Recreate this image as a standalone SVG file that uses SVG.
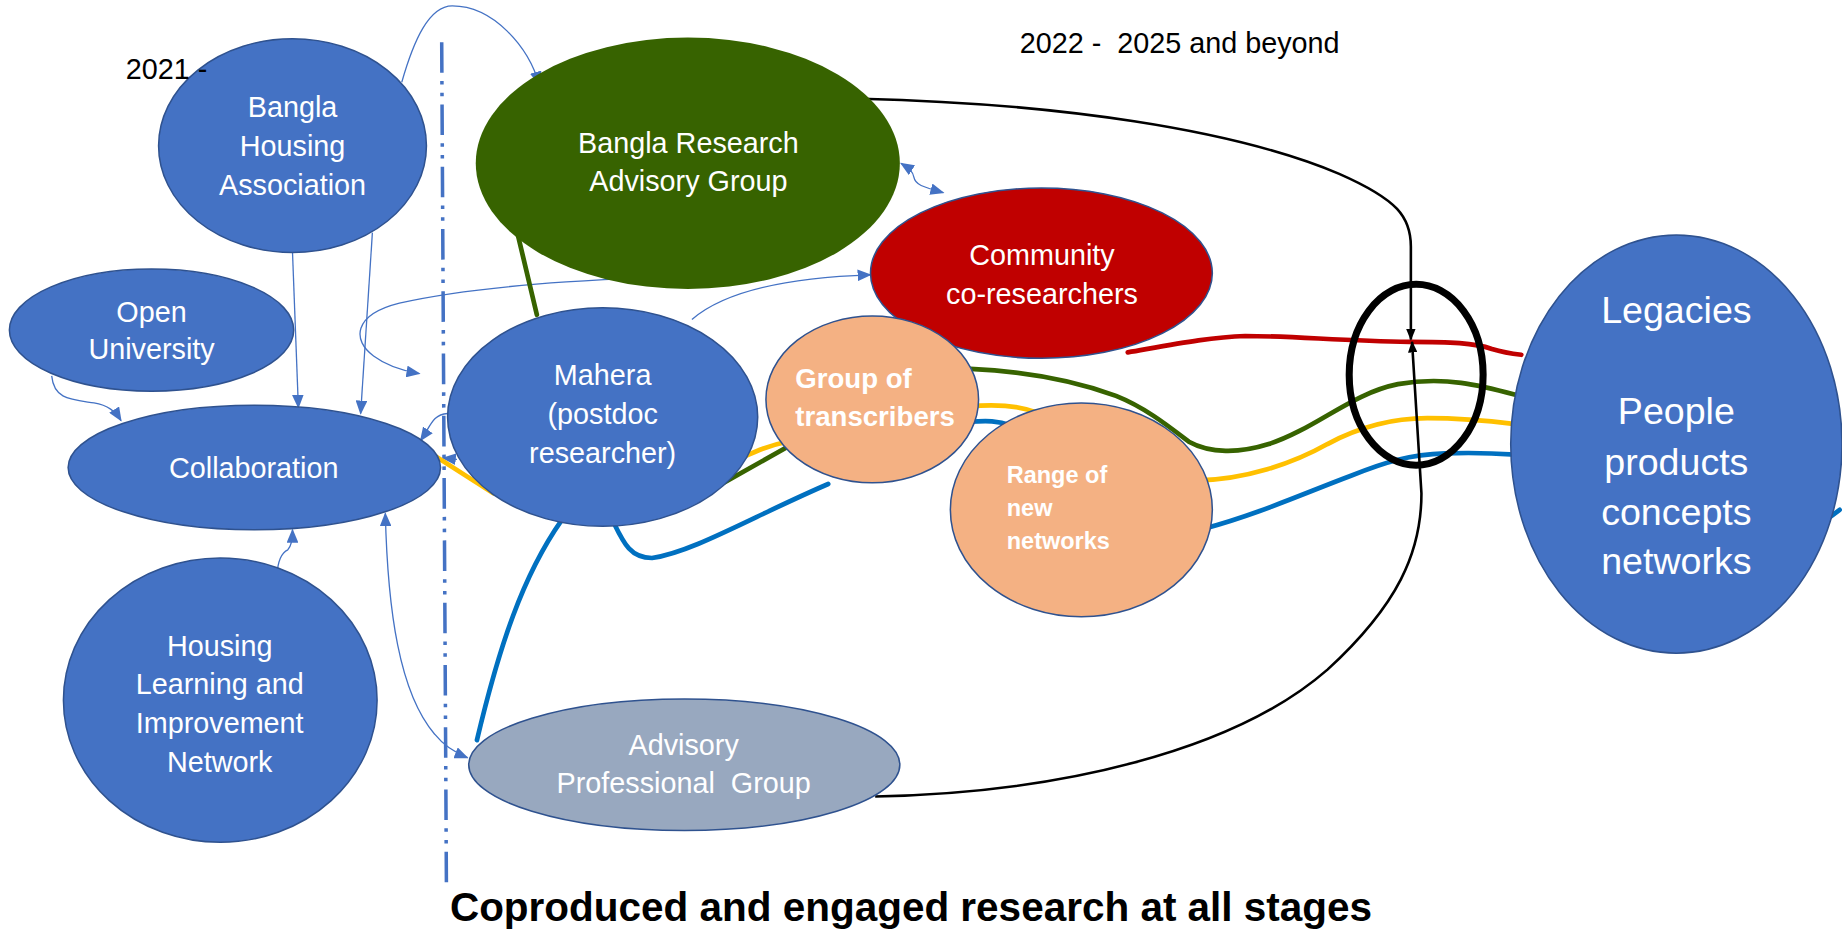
<svg xmlns="http://www.w3.org/2000/svg" width="1842" height="932" viewBox="0 0 1842 932">
<style>
text{font-family:"Liberation Sans",Arial,sans-serif;}
.nt{fill:#ffffff;font-size:24.5px;text-anchor:middle;}
.lt{fill:#ffffff;font-size:32px;text-anchor:middle;}
.bt{fill:#ffffff;font-weight:bold;}
.blk{fill:#000000;font-size:24.5px;}
.nb{fill:#4472C4;stroke:#2F528F;stroke-width:1.3;}
.pe{fill:#F4B183;stroke:#2F528F;stroke-width:1.3;}
.thin{fill:none;stroke:#4472C4;stroke-width:1.1;}
.thick{fill:none;stroke-width:4;stroke-linecap:round;}
.blackline{fill:none;stroke:#000000;stroke-width:2.2;}
</style>
<defs>
<marker id="ab" markerUnits="userSpaceOnUse" markerWidth="12" markerHeight="10" viewBox="0 0 12 10" refX="11" refY="5" orient="auto-start-reverse">
<path d="M0,0 L12,5 L0,10 z" fill="#4472C4"/>
</marker>
<marker id="ak" markerUnits="userSpaceOnUse" markerWidth="10" markerHeight="8" viewBox="0 0 10 8" refX="9" refY="4" orient="auto-start-reverse">
<path d="M0,0 L10,4 L0,8 z" fill="#000000"/>
</marker>
</defs>
<rect x="0" y="0" width="1842" height="932" fill="#ffffff"/>
<g transform="scale(1.174745)">
<g id="connectors">
<line x1="376" y1="36" x2="380" y2="752" stroke="#4472C4" stroke-width="3" stroke-dasharray="26 7 3 7 3 7"/>
<path class="thin" d="M342,70 C352,35 365,5 385,5 C420,5 450,40 459,72" marker-end="url(#ab)"/>
<path class="thin" d="M249,215 L254,347" marker-end="url(#ab)"/>
<path class="thin" d="M317,198 L307,352" marker-end="url(#ab)"/>
<path class="thin" d="M44,320 C46,340 60,340 80,343 C92,345 98,350 103,358" marker-end="url(#ab)"/>
<path class="thin" d="M236,490 C236,478 240,470 245,468 C248,465 249,460 249,451" marker-end="url(#ab)"/>
<path class="thin" d="M328,437 C330,520 340,590 370,625 C378,635 388,641 398,645" marker-start="url(#ab)" marker-end="url(#ab)"/>
<path class="thin" d="M636,234 C540,236 420,240 340,258 C300,268 300,290 318,303 C330,312 345,316 357,318" marker-start="url(#ab)" marker-end="url(#ab)"/>
<path class="thin" d="M589,272 C620,245 680,236 741,234" marker-end="url(#ab)"/>
<path class="thin" d="M381,352 C368,353 367,362 358,375" marker-end="url(#ab)"/>
<path class="thin" d="M389,391 L377,390" marker-end="url(#ab)"/>
<path class="thin" d="M767,139 C775,144 777,146 778,151 C779,157 785,159 803,164" marker-start="url(#ab)" marker-end="url(#ab)"/>
<path class="thick" stroke="#376300" d="M438,188 L457,268"/>
<path class="thick" stroke="#376300" d="M600,420 L680,375"/>
<path class="thick" stroke="#376300" d="M826,314 C870,316 915,324 950,337 C975,347 995,363 1012,376 C1030,386 1055,386 1080,378 C1120,365 1150,335 1190,327 C1230,320 1260,328 1290,336"/>
<path class="thick" stroke="#FFC000" d="M370,388 L420,420"/>
<path class="thick" stroke="#FFC000" d="M620,395 C635,388 650,380 670,376"/>
<path class="thick" stroke="#FFC000" d="M825,346 C845,344 865,344 885,352"/>
<path class="thick" stroke="#FFC000" d="M1020,409 C1060,408 1100,395 1130,378 C1160,362 1190,356 1215,356 C1245,356 1265,358 1290,361"/>
<path class="thick" stroke="#0070C0" d="M406,630 C425,550 445,490 478,443"/>
<path class="thick" stroke="#0070C0" d="M520,440 C530,460 535,475 555,475 C590,470 640,440 705,412"/>
<path class="thick" stroke="#0070C0" d="M825,359 C840,358 850,358 860,362"/>
<path class="thick" stroke="#0070C0" d="M1025,450 C1070,438 1110,420 1150,405 C1180,393 1200,387 1230,386 C1255,385 1275,386 1290,387"/>
<path class="thick" stroke="#0070C0" d="M1550,446 L1566,434"/>
<path class="thick" stroke="#C00000" stroke-width="3" d="M960,300 C1000,293 1030,287 1060,286 C1100,286 1140,290 1200,291 C1235,291 1255,292 1270,297 C1280,300 1287,301 1295,302"/>
<path class="blackline" d="M733,84 C900,88 1050,110 1140,148 C1190,170 1201,185 1201,210 L1201,289" marker-end="url(#ak)"/>
<path class="blackline" d="M745,678 C900,675 1050,640 1130,570 C1190,515 1210,470 1210,420 L1202,291" marker-end="url(#ak)"/>
<ellipse cx="1205.5" cy="319" rx="57" ry="77" fill="none" stroke="#000000" stroke-width="6"/>
</g>
<g id="bangla-housing">
<ellipse class="nb" cx="249" cy="124" rx="114" ry="91"/>
<text class="nt" x="249" y="100">Bangla</text>
<text class="nt" x="249" y="133">Housing</text>
<text class="nt" x="249" y="166">Association</text>
</g>
<g id="open-university">
<ellipse class="nb" cx="129" cy="281" rx="121" ry="52"/>
<text class="nt" x="129" y="274">Open</text>
<text class="nt" x="129" y="306">University</text>
</g>
<g id="collaboration">
<ellipse class="nb" cx="216.5" cy="398" rx="158.5" ry="53"/>
<text class="nt" x="216" y="407">Collaboration</text>
</g>
<g id="hlin">
<ellipse class="nb" cx="187.5" cy="596" rx="133.5" ry="121"/>
<text class="nt" x="187" y="558">Housing</text>
<text class="nt" x="187" y="591">Learning and</text>
<text class="nt" x="187" y="624">Improvement</text>
<text class="nt" x="187" y="657">Network</text>
</g>
<g id="bangla-research">
<ellipse cx="585.5" cy="139" rx="180.5" ry="107" fill="#376300"/>
<text class="nt" x="586" y="130">Bangla Research</text>
<text class="nt" x="586" y="163">Advisory Group</text>
</g>
<g id="community">
<ellipse cx="886.5" cy="232.5" rx="145.5" ry="72.5" fill="#C00000" stroke="#2F528F" stroke-width="1.3"/>
<text class="nt" x="887" y="226">Community</text>
<text class="nt" x="887" y="259">co-researchers</text>
</g>
<g id="mahera">
<ellipse class="nb" cx="513" cy="355" rx="132" ry="93"/>
<text class="nt" x="513" y="328">Mahera</text>
<text class="nt" x="513" y="361">(postdoc</text>
<text class="nt" x="513" y="394">researcher)</text>
</g>
<g id="transcribers">
<ellipse class="pe" cx="742.5" cy="340" rx="90.5" ry="71"/>
<text class="bt" x="677" y="330" font-size="23.5">Group of</text>
<text class="bt" x="677" y="363" font-size="23.5">transcribers</text>
</g>
<g id="range-networks">
<ellipse class="pe" cx="920.5" cy="434" rx="111.5" ry="91"/>
<text class="bt" x="857" y="411" font-size="20">Range of</text>
<text class="bt" x="857" y="439" font-size="20">new</text>
<text class="bt" x="857" y="467" font-size="20">networks</text>
</g>
<g id="legacies">
<ellipse class="nb" cx="1427" cy="378" rx="141" ry="178"/>
<text class="lt" x="1427" y="275">Legacies</text>
<text class="lt" x="1427" y="361">People</text>
<text class="lt" x="1427" y="404">products</text>
<text class="lt" x="1427" y="447">concepts</text>
<text class="lt" x="1427" y="489">networks</text>
</g>
<g id="advisory-professional">
<ellipse cx="582.5" cy="651" rx="183.5" ry="56" fill="#98A8BF" stroke="#2F528F" stroke-width="1.3"/>
<text class="nt" x="582" y="643">Advisory</text>
<text class="nt" x="582" y="675" style="white-space:pre">Professional  Group</text>
</g>
<g id="labels">
<text class="blk" x="107" y="67">2021 -</text>
<text class="blk" x="868" y="45" style="white-space:pre">2022 -  2025 and beyond</text>
<text x="383" y="784" font-size="34" font-weight="bold" fill="#000000" textLength="785" lengthAdjust="spacingAndGlyphs">Coproduced and engaged research at all stages</text>
</g>
</g>
</svg>
